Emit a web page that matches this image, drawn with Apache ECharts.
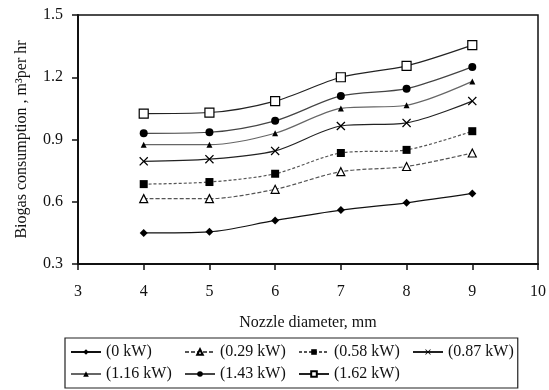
<!DOCTYPE html>
<html>
<head>
<meta charset="utf-8">
<script src="https://cdn.jsdelivr.net/npm/echarts@6/dist/echarts.min.js"></script>
<style>
  html, body { margin: 0; padding: 0; background: #fff; }
  #chart { width: 549px; height: 390px; }
</style>
</head>
<body>
<div id="chart"></div>
<script>
// nozzle diameters (mm)
var nozzle = [4, 5, 6, 7, 8, 9];
var xTicks = [3, 4, 5, 6, 7, 8, 9, 10];
var yTicks = [0.3, 0.6, 0.9, 1.2, 1.5];

// biogas consumption, m3 per hr, for each load
var load0 = [0.45, 0.455, 0.51, 0.56, 0.595, 0.64];
var load029 = [0.615, 0.615, 0.66, 0.745, 0.77, 0.835];
var load058 = [0.685, 0.695, 0.735, 0.835, 0.85, 0.94];
var load087 = [0.795, 0.805, 0.845, 0.965, 0.98, 1.085];
var load116 = [0.875, 0.875, 0.93, 1.05, 1.065, 1.18];
var load143 = [0.93, 0.935, 0.99, 1.11, 1.145, 1.25];
var load162 = [1.025, 1.03, 1.085, 1.2, 1.255, 1.355];

var names = ["(0 kW)", "(0.29 kW)", "(0.58 kW)", "(0.87 kW)", "(1.16 kW)", "(1.43 kW)", "(1.62 kW)"];

var crossPath = "path://M0,1L1,0L5,4L9,0L10,1L6,5L10,9L9,10L5,6L1,10L0,9L4,5Z";

function pairs(ys) {
  return nozzle.map(function (x, i) { return [x, ys[i]]; });
}

function mkSeries(name, ys, symbol, size, fill, lineColor, dash) {
  return {
    name: name,
    type: "line",
    smooth: 0.3,
    data: pairs(ys),
    symbol: symbol,
    symbolSize: size,
    itemStyle: { color: fill, borderColor: "#000", borderWidth: fill === "#fff" ? 1.2 : 0 },
    lineStyle: { color: lineColor, width: 1.2, type: dash || "solid" },
    emphasis: { disabled: true }
  };
}

var chartDom = document.getElementById("chart");
var myChart = echarts.init(chartDom);
var font = "Liberation Serif";

var option = {
  animation: false,
  backgroundColor: "#fff",
  textStyle: { fontFamily: font, color: "#111" },
  grid: {
    left: 78, right: 6, top: 15, bottom: 126,
    show: true, borderColor: "#111", borderWidth: 1.5, backgroundColor: "transparent"
  },
  xAxis: {
    type: "value",
    min: 3, max: 10, interval: 1,
    name: "Nozzle diameter, mm",
    nameLocation: "middle",
    nameGap: 51,
    nameTextStyle: { fontFamily: font, fontSize: 16, color: "#111" },
    axisLine: { lineStyle: { color: "#111", width: 2 } },
    axisTick: { length: 6, lineStyle: { color: "#111", width: 1.5 } },
    axisLabel: {
      margin: 20, fontFamily: font, fontSize: 16, color: "#111",
      formatter: function (v) { return xTicks.indexOf(v) >= 0 ? String(v) : ""; }
    },
    splitLine: { show: false }
  },
  yAxis: {
    type: "value",
    min: 0.3, max: 1.5, interval: 0.3,
    name: "Biogas consumption , m³per hr",
    nameLocation: "middle",
    nameGap: 48,
    nameTextStyle: { fontFamily: font, fontSize: 16, color: "#111" },
    axisLine: { show: true, lineStyle: { color: "#111", width: 2 } },
    axisTick: { show: true, length: 6, lineStyle: { color: "#111", width: 1.5 } },
    axisLabel: {
      margin: 15, fontFamily: font, fontSize: 16, color: "#111",
      formatter: function (v) {
        var t = yTicks.filter(function (k) { return Math.abs(k - v) < 1e-6; });
        return t.length ? t[0].toFixed(1) : "";
      }
    },
    splitLine: { show: false }
  },
  legend: {
    left: 65,
    top: 338,
    width: 450,
    padding: [6, 4, 6, 5],
    itemGap: 6,
    itemWidth: 30,
    itemHeight: 7,
    borderColor: "#222",
    borderWidth: 1.2,
    textStyle: { fontFamily: font, fontSize: 16, color: "#111", width: 72, lineHeight: 15 },
    data: names.map(function (n, i) {
      return i === 3 ? { name: n, textStyle: { width: 60 } } : { name: n };
    })
  },
  series: [
    mkSeries(names[0], load0, "diamond", 8, "#000", "#111"),
    mkSeries(names[1], load029, "triangle", 8, "#fff", "#555", [4, 2]),
    mkSeries(names[2], load058, "rect", 8, "#000", "#555", [3, 2]),
    mkSeries(names[3], load087, crossPath, 9, "#000", "#222"),
    mkSeries(names[4], load116, "triangle", 6, "#000", "#666"),
    mkSeries(names[5], load143, "circle", 8, "#000", "#444"),
    mkSeries(names[6], load162, "rect", 9, "#fff", "#222")
  ]
};

option && myChart.setOption(option);
</script>
</body>
</html>
